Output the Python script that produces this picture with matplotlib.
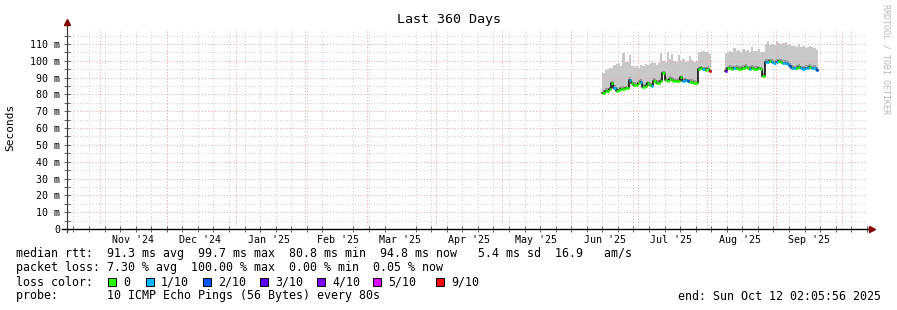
import numpy as np
import pandas as pd
import matplotlib
matplotlib.use("Agg")
import matplotlib.pyplot as plt
import matplotlib.dates as mdates
from matplotlib.patches import Rectangle
from matplotlib.ticker import MultipleLocator, FuncFormatter
from datetime import datetime

# SmokePing "Last 360 Days" graph (ms, one value per day)
t_start = datetime(2024, 10, 17, 2, 5, 56)
t_end = datetime(2025, 10, 12, 2, 5, 56)

seg1_start = "2025-06-15"
seg1_median = [80.8, 82.0, 82.3, 83.0, 86.5, 84.0, 82.2, 82.6, 83.5, 83.2,
               83.6, 83.8, 88.5, 86.6, 85.6, 85.4, 87.0, 87.4, 84.6, 85.0,
               86.6, 85.8, 85.0, 88.0, 87.0, 86.8, 88.0, 92.6, 88.6, 87.8,
               89.2, 88.6, 88.0, 87.8, 88.2, 90.2, 88.2, 88.4, 87.8, 87.6,
               87.6, 86.8, 86.6, 95.0, 95.6, 95.0, 94.6, 95.2, 93.8]
seg1_max = [92.5, 94.5, 95.0, 95.5, 96.0, 97.5, 98.0, 98.5, 97.0, 104.5,
            99.0, 99.0, 103.5, 97.0, 96.5, 97.0, 96.0, 97.5, 97.0, 98.0,
            97.5, 98.0, 99.0, 98.5, 97.5, 98.5, 104.6, 100.0, 99.0, 105.5,
            101.0, 104.0, 100.0, 99.0, 103.5, 100.0, 101.0, 99.5, 100.0, 103.0,
            100.5, 99.5, 100.0, 105.5, 105.0, 106.0, 105.0, 105.5, 104.0]
seg1_loss = [0, 0, 0, 0, 0, 1, 0, 0, 0, 0,
             0, 0, 1, 0, 0, 0, 0, 1, 0, 0,
             0, 0, 1, 0, 0, 0, 0, 0, 0, 0,
             0, 0, 0, 0, 0, 0, 1, 1, 2, 0,
             0, 0, 0, 0, 0, 1, 0, 0, 9]

seg2_start = "2025-08-09"
seg2_median = [94.2, 95.5, 95.8, 95.2, 95.6, 96.0, 95.4, 95.2, 95.8, 96.2,
               95.5, 95.3, 95.7, 95.4, 95.2, 95.6, 95.0, 91.0, 99.2, 99.5,
               99.7, 99.3, 98.8, 99.4, 99.6, 99.2, 98.8, 98.6, 98.2, 97.0,
               95.8, 95.5, 96.0, 96.3, 95.6, 95.4, 96.0, 95.8, 96.2, 95.5,
               95.7, 94.8]
seg2_max = [104.5, 105.5, 106.0, 105.5, 107.5, 105.8, 106.2, 105.4, 107.0, 105.8,
            106.4, 105.2, 108.0, 106.0, 105.6, 106.8, 105.5, 105.0, 110.0, 111.5,
            109.6, 110.2, 109.4, 112.0, 110.5, 109.8, 110.4, 111.0, 109.6, 110.2,
            108.5, 109.0, 108.2, 109.6, 108.0, 108.6, 107.8, 108.4, 109.0, 108.0,
            107.6, 106.5]
seg2_loss = [3, 0, 0, 0, 1, 0, 0, 0, 0, 0,
             0, 1, 0, 0, 0, 0, 0, 0, 1, 1,
             0, 1, 1, 1, 0, 0, 1, 1, 1, 2,
             1, 1, 0, 0, 1, 1, 1, 1, 0, 1,
             1, 2]

loss_labels = ["0", "1/10", "2/10", "3/10", "4/10", "5/10", "9/10"]
loss_counts = [0, 1, 2, 3, 4, 5, 9]
loss_colors = ["#26ff00", "#00b8ff", "#0059ff", "#5e00ff", "#7e00ff", "#dd00ff", "#ff0000"]
color_of = dict(zip(loss_counts, loss_colors))

legend_lines = [
    "median rtt:  91.3 ms avg  99.7 ms max  80.8 ms min  94.8 ms now   5.4 ms sd  16.9   am/s",
    "packet loss: 7.30 % avg  100.00 % max  0.00 % min  0.05 % now",
]
probe_text = "probe:       10 ICMP Echo Pings (56 Bytes) every 80s"
end_text = "end: Sun Oct 12 02:05:56 2025"

MONO = "DejaVu Sans Mono"
plt.rcParams["font.family"] = MONO
W, H = 897, 310

fig = plt.figure(figsize=(W / 100, H / 100), dpi=100)
fig.patch.set_facecolor("white")
ax = fig.add_axes([67 / W, (H - 229) / H, 800 / W, 200 / H])
ax.set_xlim(t_start, t_end)
ax.set_ylim(0, 118.9)

core = 1.6  # darker smoke just above the median
for start, med, mx, loss in [(seg1_start, seg1_median, seg1_max, seg1_loss),
                             (seg2_start, seg2_median, seg2_max, seg2_loss)]:
    edges = mdates.date2num(pd.date_range(start, periods=len(med) + 1, freq="D"))
    med = np.array(med)
    mx = np.array(mx)
    ax.fill_between(edges, np.append(med, med[-1]), np.append(mx, mx[-1]),
                    step="post", color="#c8c8c8", lw=0, zorder=2)
    ax.fill_between(edges, np.append(med, med[-1]), np.append(med, med[-1]) + core,
                    step="post", color="#969696", lw=0, zorder=2)
    ax.step(edges, np.append(med, med[-1]), where="post", color="black",
            lw=1.1, zorder=4)
    for i in range(len(med)):
        ax.hlines(med[i], edges[i], edges[i + 1], color=color_of[loss[i]],
                  lw=2.0, zorder=5)

# grid: weekly / 5 ms grey dots, monthly / 10 ms red dots (drawn over the smoke)
dots = (0, (1, 2))
grey = "#cfcfcf"
pink = "#f2a6a6"
ax.xaxis.set_minor_locator(mdates.WeekdayLocator(byweekday=mdates.SU))
ax.xaxis.set_major_locator(mdates.MonthLocator(bymonthday=16))
ax.xaxis.set_major_formatter(mdates.DateFormatter("%b '%y"))
ax.yaxis.set_major_locator(MultipleLocator(10))
ax.yaxis.set_minor_locator(MultipleLocator(5))
ax.yaxis.set_major_formatter(FuncFormatter(lambda v, _: "0" if v == 0 else f"{v:.0f} m"))

ax.grid(axis="x", which="minor", color=grey, lw=0.75, ls=dots, zorder=6)
ax.grid(axis="y", which="minor", color=grey, lw=0.75, ls=dots, zorder=6)
ax.grid(axis="y", which="major", color=pink, lw=0.75, ls=dots, zorder=6)
for m in mdates.MonthLocator().tick_values(t_start, t_end):
    ax.axvline(m, color=pink, lw=0.75, ls=dots, zorder=6)
ax.set_axisbelow(False)

ax.tick_params(axis="x", which="major", length=0, pad=4, labelsize=7.2, colors="black")
ax.tick_params(axis="x", which="minor", direction="inout", length=4, width=0.7, color="#606060")
ax.tick_params(axis="y", which="both", direction="inout", length=4, width=0.7,
               color="#606060", labelsize=7.2, pad=3)
for s in ax.spines.values():
    s.set_visible(False)

# axes with arrow heads
ax.plot([0, 0], [-0.015, 1.035], transform=ax.transAxes, clip_on=False,
        color="#404040", lw=0.9, zorder=7)
ax.plot([-0.006, 1.006], [0, 0], transform=ax.transAxes, clip_on=False,
        color="black", lw=1.0, zorder=7)
ax.plot(0, 1.035, marker="^", ms=4.5, color="#800000", transform=ax.transAxes,
        clip_on=False, zorder=8)
ax.plot(1.006, 0, marker=">", ms=4.5, color="#800000", transform=ax.transAxes,
        clip_on=False, zorder=8)

fig.text(448.5 / W, 1 - 19 / H, "Last 360 Days", ha="center", va="center", fontsize=9.6)
fig.text(10 / W, 1 - 127 / H, "Seconds", rotation=90, ha="center", va="center", fontsize=8)
fig.text(886 / W, 1 - 4 / H, "RRDTOOL / TOBI OETIKER", rotation=-90, ha="center",
         va="top", fontsize=6, color="#b8b8b8")

# legend block
fs = 8.4
for k, line in enumerate(legend_lines):
    fig.text(16 / W, 1 - (254 + 14 * k) / H, line, ha="left", va="center", fontsize=fs)
fig.text(16 / W, 1 - 282 / H, "loss color:", ha="left", va="center", fontsize=fs)
box_x = [108, 146, 203, 260, 317, 373, 436]
for bx, lab, col in zip(box_x, loss_labels, loss_colors):
    fig.patches.append(Rectangle((bx / W, (H - 286) / H), 8 / W, 8 / H,
                                 transform=fig.transFigure, facecolor=col,
                                 edgecolor="black", lw=0.7))
    fig.text((bx + 15) / W, 1 - 282 / H, lab, ha="left", va="center", fontsize=fs)
fig.text(16 / W, 1 - 296 / H, probe_text, ha="left", va="center", fontsize=fs)
fig.text(881 / W, 1 - 296 / H, end_text, ha="right", va="center", fontsize=fs)

fig.savefig("out.png", dpi=100, facecolor="white")
